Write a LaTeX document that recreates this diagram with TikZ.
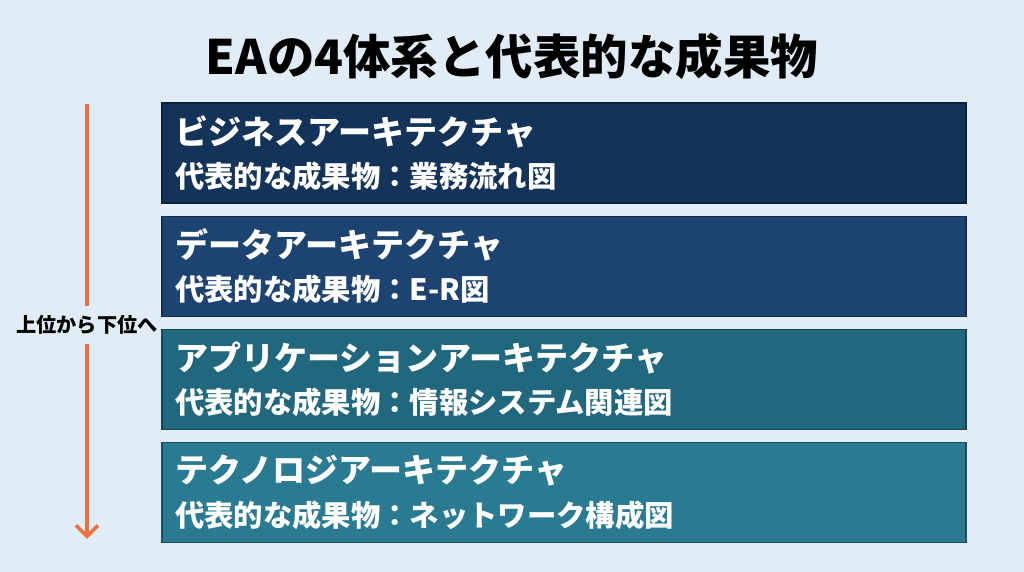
\documentclass[tikz,border=0pt]{standalone}
\usepackage{fontspec}
\setmainfont{Noto Sans CJK JP}
\usepackage{tikz}
\usetikzlibrary{positioning,arrows.meta}

\definecolor{bgblue}{RGB}{226,236,246}
\definecolor{layerA}{RGB}{20,51,88}
\definecolor{layerB}{RGB}{29,68,112}
\definecolor{layerC}{RGB}{33,104,127}
\definecolor{layerD}{RGB}{42,123,145}
\definecolor{flowarrow}{RGB}{238,112,64}

\begin{document}
\begin{tikzpicture} [ node distance=0.24cm,>={Straight Barb[length=2.2mm,width=4.4mm]},
    layer/.style={rectangle, minimum width=16.08cm, minimum height=2cm,
      text width=15.56cm, inner xsep=0.26cm, align=left, text=white,
      font=\bfseries, draw=black!35!#1, fill=#1, line width=0.6pt},
    flow/.style={draw=flowarrow, line width=2.1pt}
    ]
    % canvas
    \fill [bgblue] (0,0) rectangle (20.48,-11.44);

    \node (title) at (10.24,-1.12) {\fontsize{27}{32}\selectfont\bfseries EAの4体系と代表的な成果物};

    \node (n1) [layer=layerA] at (11.28,-3.06)
      {{\fontsize{18.8}{26}\selectfont ビジネスアーキテクチャ}\\[0.25cm]
       \fontsize{16.7}{22}\selectfont 代表的な成果物：業務流れ図};
    \node (n2) [layer=layerB, below=of n1]
      {{\fontsize{18.8}{26}\selectfont データアーキテクチャ}\\[0.25cm]
       \fontsize{16.7}{22}\selectfont 代表的な成果物：E-R図};
    \node (n3) [layer=layerC, below=of n2]
      {{\fontsize{18.8}{26}\selectfont アプリケーションアーキテクチャ}\\[0.25cm]
       \fontsize{16.7}{22}\selectfont 代表的な成果物：情報システム関連図};
    \node (n4) [layer=layerD, below=of n3]
      {{\fontsize{18.8}{26}\selectfont テクノロジアーキテクチャ}\\[0.25cm]
       \fontsize{16.7}{22}\selectfont 代表的な成果物：ネットワーク構成図};

    % order of the layers
    \coordinate (top) at (1.74,-2.08);
    \coordinate (bottom) at (1.74,-10.78);
    \node (order) [inner xsep=0pt, inner ysep=0.18cm, font=\fontsize{11.5}{14}\selectfont\bfseries]
      at (1.74,-6.5) {上位から下位へ};

    \draw [flow] (top) -- (order);
    \draw [flow,->] (order) -- (bottom);
\end{tikzpicture}
\end{document}
